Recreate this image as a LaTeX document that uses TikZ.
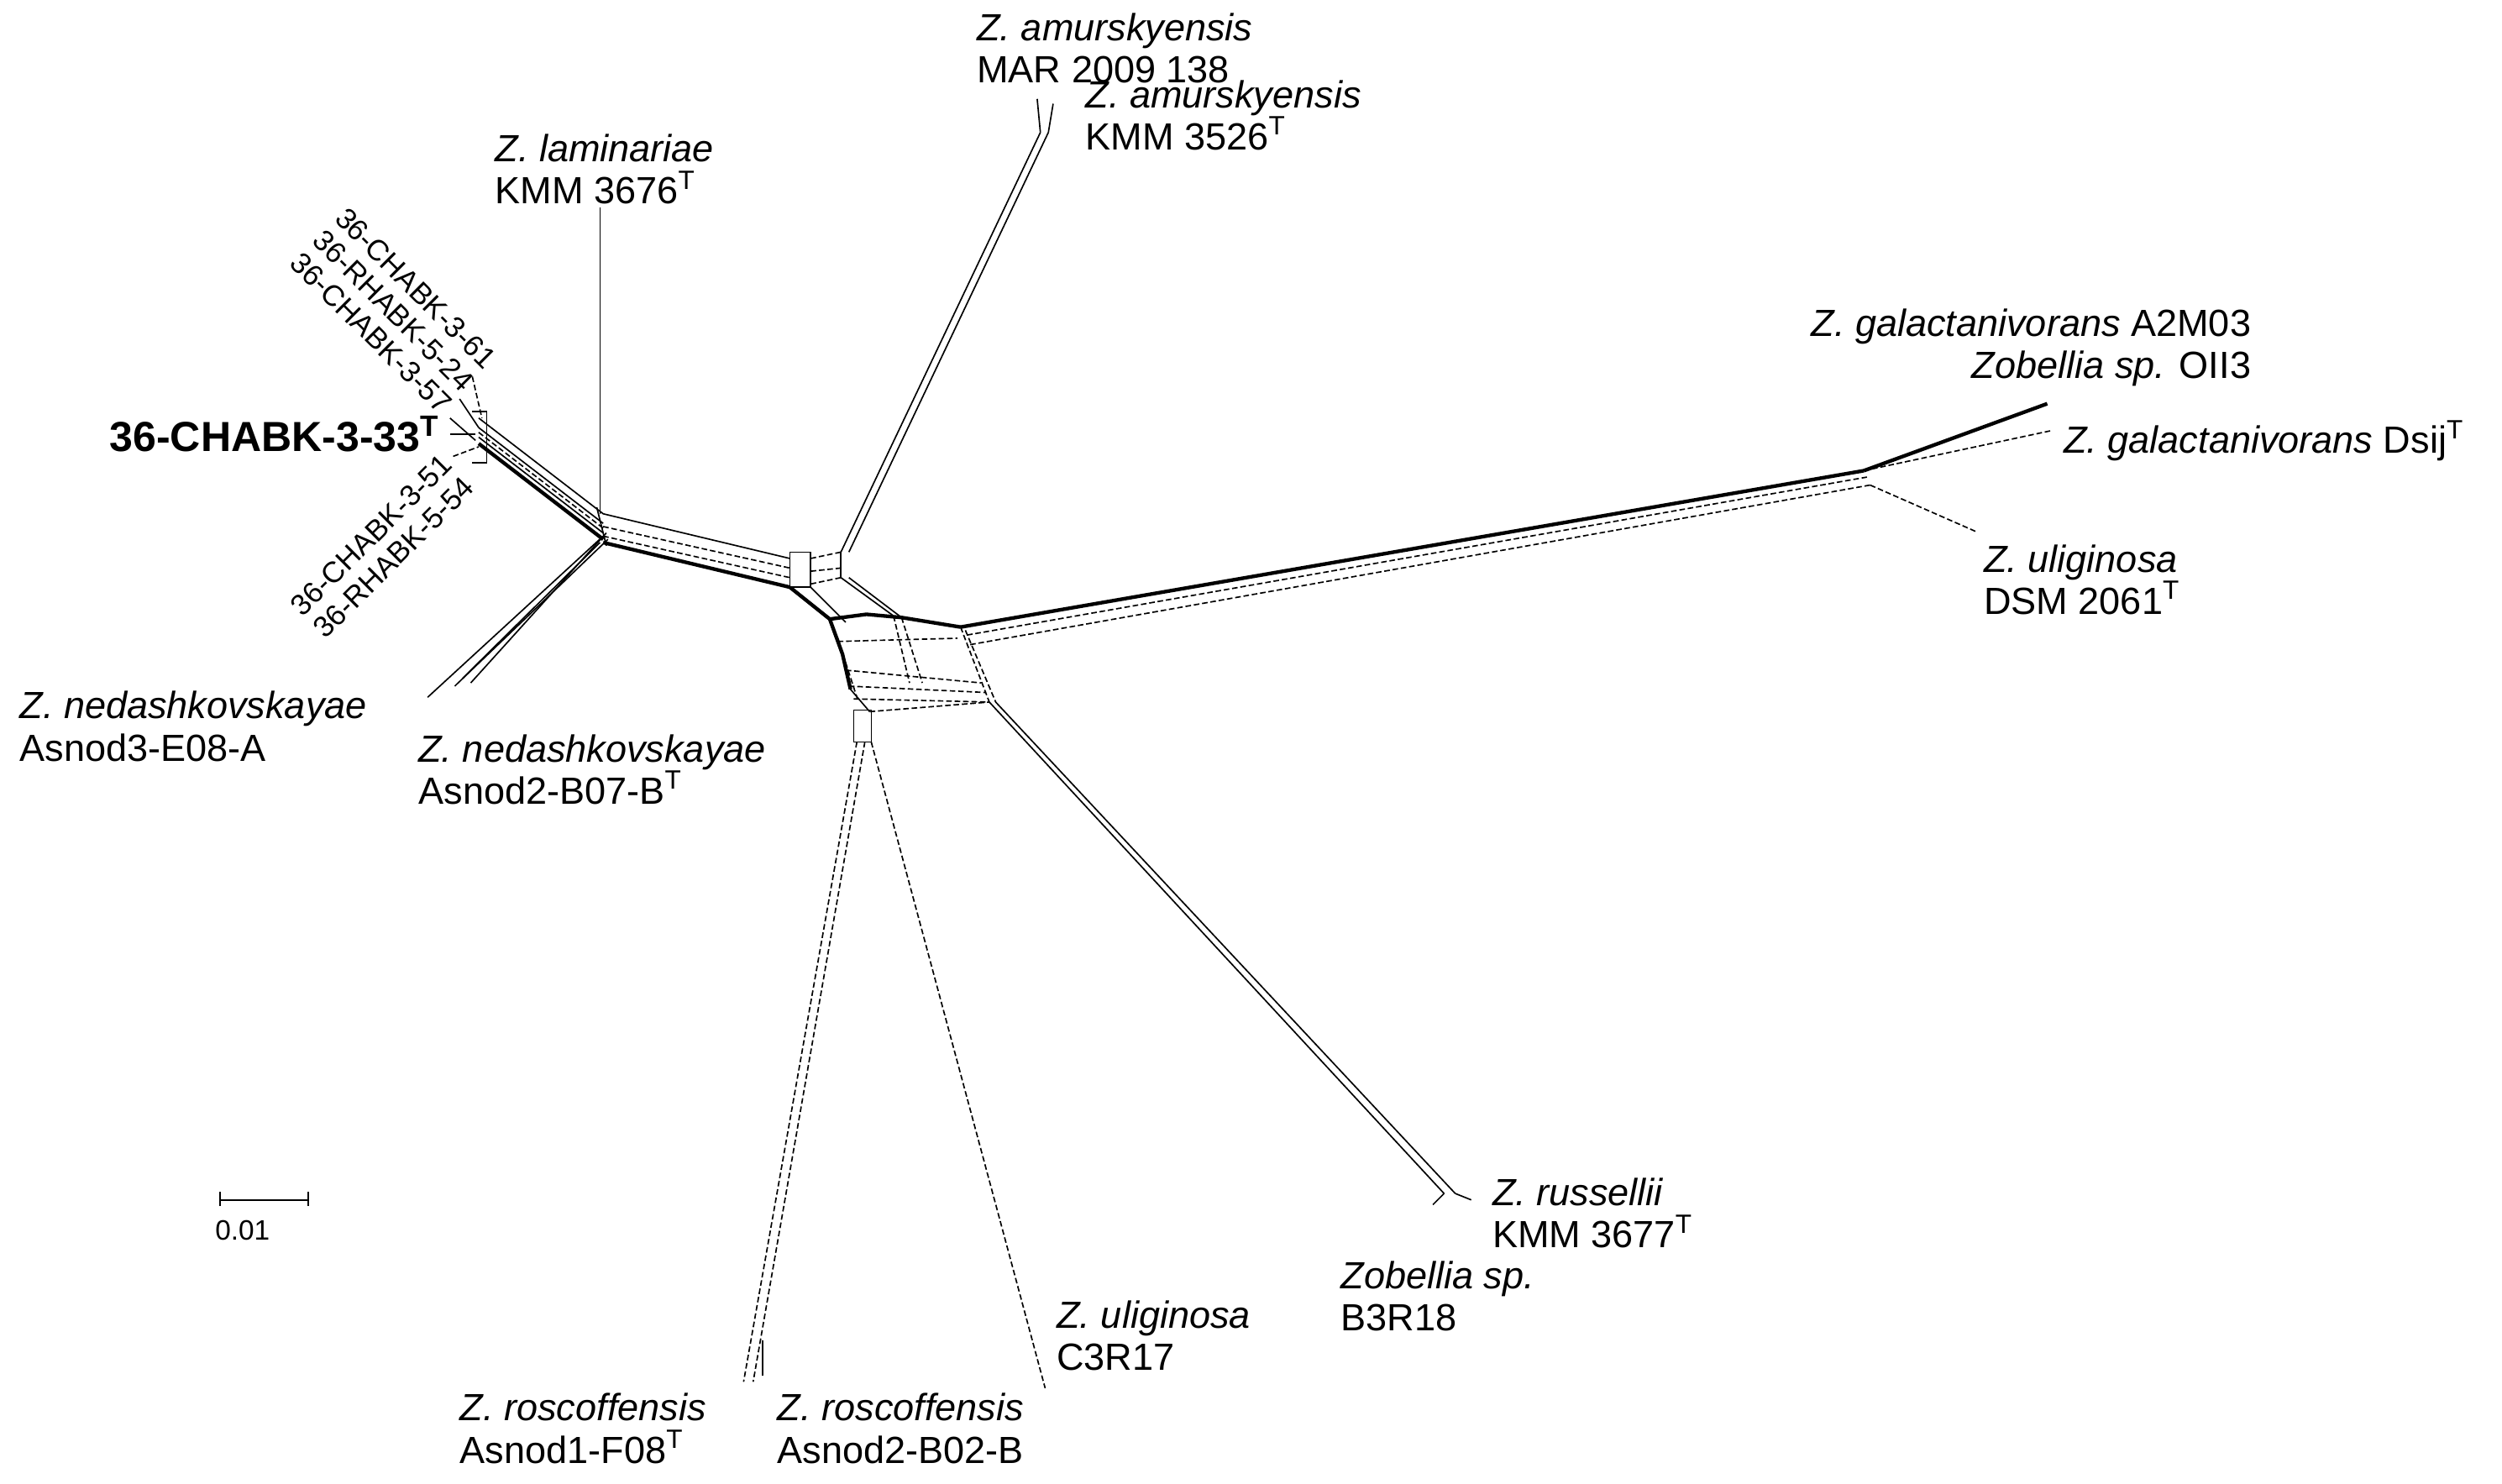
\documentclass[tikz,border=0pt]{standalone}
\usepackage{fontspec}
\setmainfont{Liberation Sans}
\begin{document}
\begin{tikzpicture}[x=0.02cm,y=-0.02cm,
  lab/.style={font=\fontsize{13.5}{15}\selectfont,align=left,anchor=north west,inner sep=0pt},
  labr/.style={lab,align=right,anchor=north east},
  sm/.style={font=\fontsize{10.5}{11}\selectfont,inner sep=0pt},
  e/.style={line width=0.5pt},
  d/.style={line width=0.5pt,dash pattern=on 2pt off 1pt},
  t/.style={line width=1.3pt}]
\useasboundingbox (0,0) rectangle (1568,930);
% ---- left cluster
\foreach \o in {0,6,12}{\draw[e] (300,{262+\o}) -- (378,{322+\o});}
\draw[d] (300,271) -- (378,331);
\draw[t] (300,278) -- (378,338);
\draw[e] (296,258) -- (305,258) -- (305,290) -- (296,290);
\draw[d] (296,236) -- (302,262);
\draw[e] (288,250) -- (300,268);
\draw[e] (282,262) -- (298,276);
\draw[e] (282,272) -- (298,272);
\draw[d] (284,286) -- (300,280);
% laminariae
\draw[e] (376,130) -- (376,322);
\draw[e] (374,318) -- (380,342);
% nedashkovskayae
\draw[e] (378,336) -- (268,437);
\draw[e] (381,338) -- (285,430);
\draw[e] (376,340) -- (290,425);
\draw[e] (380,334) -- (295,428);
% to centre
\draw[e] (378,322) -- (495,350);
\draw[d] (378,330) -- (495,356);
\draw[d] (378,336) -- (495,362);
\draw[t] (378,340) -- (495,368);
\draw[e] (495,346) rectangle (508,368);
\draw[d] (508,350) -- (527,346);
\draw[d] (508,358) -- (527,356);
\draw[d] (508,366) -- (527,362);
\draw[e] (527,346) -- (527,362);
% amurskyensis
\draw[e] (527,346) -- (652,83);
\draw[e] (532,346) -- (657,83);
\draw[e] (652,83) -- (650,62);
\draw[e] (657,83) -- (660,65);
% centre block
\draw[t] (495,368) -- (520,388) -- (528,410) -- (533,432);
\draw[e] (508,368) -- (530,390);
\draw[e] (527,362) -- (560,386);
\draw[e] (532,362) -- (565,387);
\draw[t] (520,388) -- (543,385) -- (565,387) -- (602,393);
\draw[d] (525,402) -- (600,400);
\draw[d] (560,386) -- (570,428);
\draw[d] (565,387) -- (578,428);
\draw[d] (525,400) -- (538,440);
\draw[d] (602,393) -- (620,440);
\draw[d] (605,395) -- (624,440);
\draw[d] (530,420) -- (615,428);
\draw[d] (532,430) -- (618,434);
\draw[d] (535,438) -- (620,440);
\draw[d] (545,446) -- (620,440);
\draw[e] (533,432) -- (545,446);
\draw[e] (535,445) rectangle (546,465);
% right long branch
\draw[t] (602,393) -- (1168,295);
\draw[d] (606,398) -- (1170,299);
\draw[d] (608,404) -- (1172,304);
\draw[t] (1168,295) -- (1283,253);
\draw[d] (1168,295) -- (1285,270);
\draw[d] (1172,304) -- (1238,333);
% russellii
\draw[e] (620,440) -- (905,748);
\draw[e] (624,440) -- (912,748);
\draw[e] (905,748) -- (898,755);
\draw[e] (912,748) -- (922,752);
% roscoffensis
\draw[d] (537,465) -- (466,866);
\draw[d] (542,465) -- (472,866);
\draw[e] (478,840) -- (478,862);
% uliginosa C3R17
\draw[d] (546,465) -- (655,870);
% ---- labels
\node[lab] at (612,8) {\textit{Z. amurskyensis}\\MAR 2009 138};
\node[lab] at (680,50) {\textit{Z. amurskyensis}\\KMM 3526\textsuperscript{T}};
\node[lab] at (310,84) {\textit{Z. laminariae}\\KMM 3676\textsuperscript{T}};
\node[labr] at (1411,193) {\textit{Z. galactanivorans} A2M03\\\textit{Zobellia sp.} OII3};
\node[lab] at (1293,263) {\textit{Z. galactanivorans} Dsij\textsuperscript{T}};
\node[lab] at (1243,341) {\textit{Z. uliginosa}\\DSM 2061\textsuperscript{T}};
\node[lab] at (12,433) {\textit{Z. nedashkovskayae}\\Asnod3-E08-A};
\node[lab] at (262,460) {\textit{Z. nedashkovskayae}\\Asnod2-B07-B\textsuperscript{T}};
\node[lab] at (935,738) {\textit{Z. russellii}\\KMM 3677\textsuperscript{T}};
\node[lab] at (840,790) {\textit{Zobellia sp.}\\B3R18};
\node[lab] at (662,815) {\textit{Z. uliginosa}\\C3R17};
\node[lab] at (288,873) {\textit{Z. roscoffensis}\\Asnod1-F08\textsuperscript{T}};
\node[lab] at (487,873) {\textit{Z. roscoffensis}\\Asnod2-B02-B};
\node[font=\fontsize{15}{17}\selectfont\bfseries,anchor=east,inner sep=0pt] at (276,272) {36-CHABK-3-33\textsuperscript{T}};
\node[sm,anchor=east,rotate=-45] at (308,228) {36-CHABK-3-61};
\node[sm,anchor=east,rotate=-45] at (294,242) {36-RHABK-5-24};
\node[sm,anchor=east,rotate=-45] at (280,256) {36-CHABK-3-57};
\node[sm,anchor=east,rotate=45] at (280,288) {36-CHABK-3-51};
\node[sm,anchor=east,rotate=45] at (294,302) {36-RHABK-5-54};
% scale bar
\draw[e] (138,752) -- (193,752);
\draw[e] (138,747) -- (138,756) (193,747) -- (193,756);
\node[sm,font=\fontsize{10}{11}\selectfont] at (152,771) {0.01};
\end{tikzpicture}
\end{document}
